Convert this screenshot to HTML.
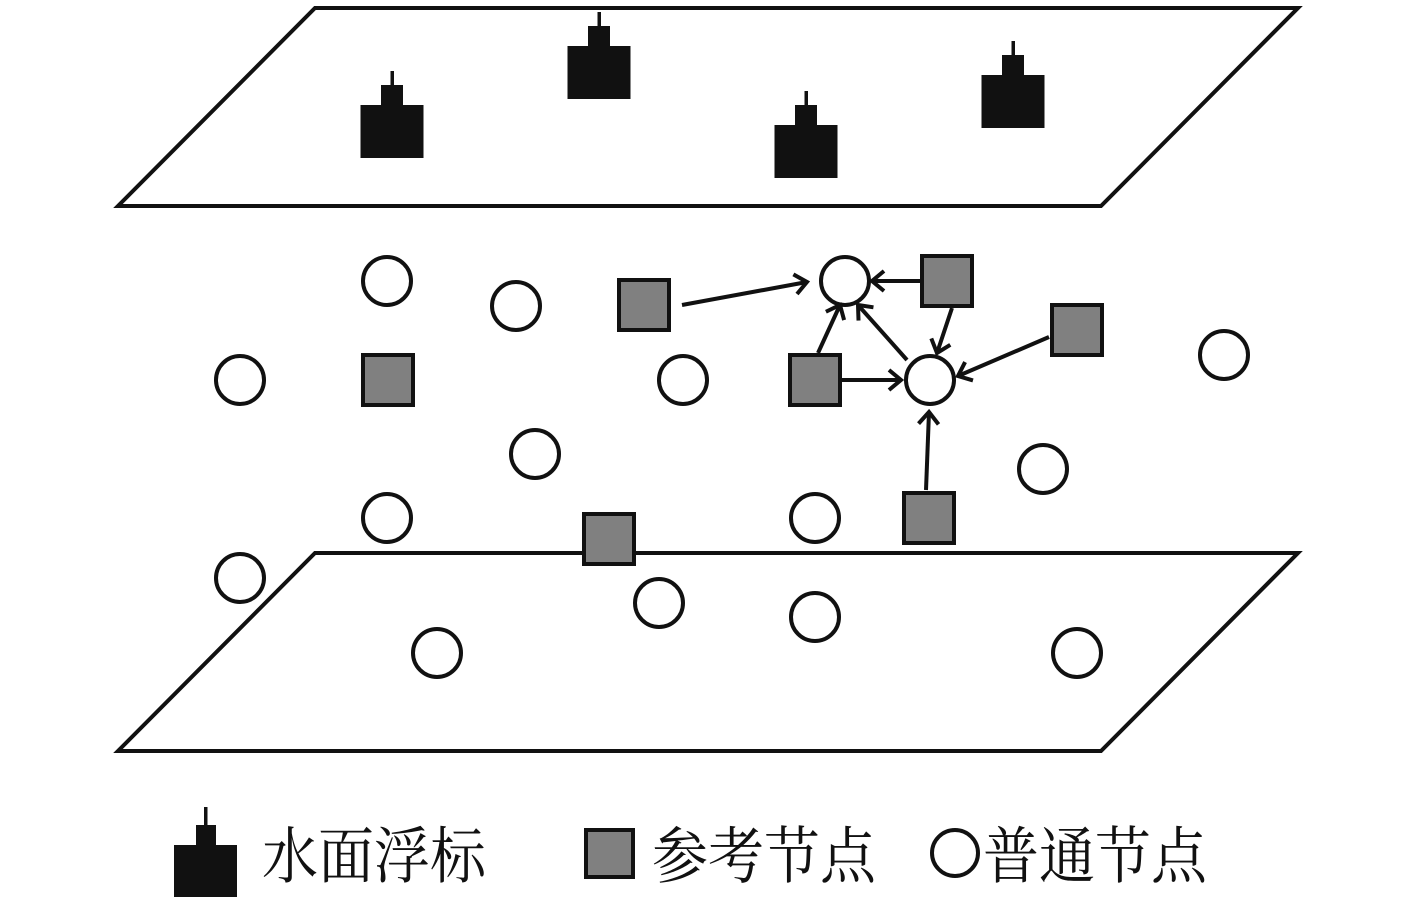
<!DOCTYPE html>
<html><head><meta charset="utf-8"><style>
html,body{margin:0;padding:0;background:#fff;width:1417px;height:905px;overflow:hidden}
svg{display:block}
text{font-family:"Liberation Serif","Noto Serif CJK SC",serif;font-size:56px;fill:#111}
</style></head><body>
<svg width="1417" height="905" viewBox="0 0 1417 905" xmlns="http://www.w3.org/2000/svg">
<defs>
<g id="buoy"><rect x="-1.5" y="0" width="3.5" height="16" fill="#111"/><rect x="-11" y="14" width="22" height="21" fill="#111"/><rect x="-31.5" y="34" width="63" height="53" fill="#111"/></g>
<marker id="ah" markerWidth="24" markerHeight="26" refX="17" refY="13" orient="auto" markerUnits="userSpaceOnUse"><path d="M5,3 L17,13 L5,23" fill="none" stroke="#111" stroke-width="4"/></marker>
</defs>
<g fill="none" stroke="#111" stroke-width="4">
<polygon points="315,8 1298,8 1101,206 118,206"/>
<polygon points="315,553 1298,553 1101,751 118,751"/>
</g>
<use href="#buoy" x="599" y="12"/>
<use href="#buoy" x="392" y="71"/>
<use href="#buoy" x="806" y="91"/>
<use href="#buoy" x="1013" y="41"/>
<g fill="#fff" stroke="#111" stroke-width="4">
<circle cx="387" cy="281" r="24"/><circle cx="516" cy="306" r="24"/><circle cx="240" cy="380" r="24"/>
<circle cx="683" cy="380" r="24"/><circle cx="535" cy="454" r="24"/><circle cx="387" cy="518" r="24"/>
<circle cx="815" cy="518" r="24"/><circle cx="1043" cy="469" r="24"/><circle cx="1224" cy="355" r="24"/>
<circle cx="240" cy="578" r="24"/><circle cx="659" cy="603" r="24"/><circle cx="815" cy="617" r="24"/>
<circle cx="437" cy="653" r="24"/><circle cx="1077" cy="653" r="24"/><circle cx="845" cy="281" r="24"/>
<circle cx="930" cy="380" r="24"/>
</g>
<g fill="#808080" stroke="#111" stroke-width="4">
<rect x="619" y="280" width="50" height="50"/><rect x="922" y="256" width="50" height="50"/>
<rect x="1052" y="305" width="50" height="50"/><rect x="363" y="355" width="50" height="50"/>
<rect x="790" y="355" width="50" height="50"/><rect x="904" y="493" width="50" height="50"/>
<rect x="584" y="514" width="50" height="50"/>
</g>
<g stroke="#111" stroke-width="4" marker-end="url(#ah)">
<line x1="682" y1="305" x2="807" y2="282"/>
<line x1="921" y1="281" x2="872" y2="281"/>
<line x1="952" y1="308" x2="937" y2="353"/>
<line x1="1049" y1="337" x2="958" y2="376"/>
<line x1="818" y1="353" x2="840" y2="305"/>
<line x1="907" y1="360" x2="858" y2="305"/>
<line x1="842" y1="380" x2="901" y2="380"/>
<line x1="926" y1="490" x2="929" y2="412"/>
</g>
<rect x="204" y="807" width="3.5" height="20" fill="#111"/>
<rect x="196" y="825" width="20" height="22" fill="#111"/>
<rect x="174" y="845" width="63" height="52" fill="#111"/>
<text x="262" y="875" transform="translate(0,-85) scale(1,1.1)">水面浮标</text>
<rect x="586" y="830" width="47" height="47" fill="#808080" stroke="#111" stroke-width="4"/>
<text x="652" y="875" transform="translate(0,-85) scale(1,1.1)">参考节点</text>
<circle cx="955" cy="853" r="23" fill="#fff" stroke="#111" stroke-width="4"/>
<text x="983" y="875" transform="translate(0,-85) scale(1,1.1)">普通节点</text>
</svg>
</body></html>
